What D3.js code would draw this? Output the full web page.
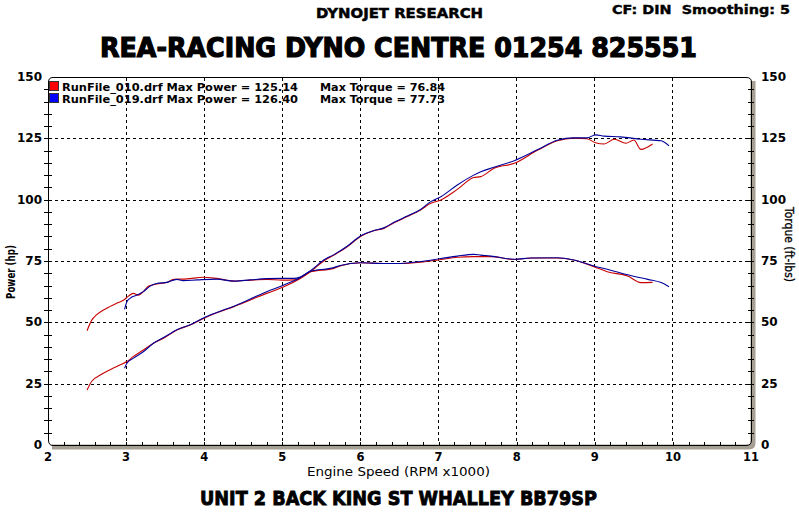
<!DOCTYPE html>
<html><head><meta charset="utf-8">
<script src="https://cdn.jsdelivr.net/npm/d3@7"></script>
<style>body{margin:0;background:#fff}svg{display:block}text{font-family:"DejaVu Sans",Verdana,sans-serif}</style>
</head><body>
<script>
// ---- data ----
const xTicks = [2,3,4,5,6,7,8,9,10,11];
const yTicks = [0,25,50,75,100,125,150];

const red010PowerRpm = [2.50,2.56,2.67,2.79,2.92,3.01,3.09,3.22,3.35,3.48,3.65,3.82,3.99,4.16,4.38,4.59,4.80,5.02,5.23,5.36,5.53,5.66,5.83,6.00,6.17,6.30,6.43,6.60,6.77,6.90,7.03,7.24,7.45,7.54,7.71,7.97,8.27,8.52,8.73,8.90,9.01,9.12,9.25,9.40,9.50,9.59,9.74];
const red010Power    = [22.4,26.0,28.5,30.6,32.6,34.0,36.0,38.7,41.5,43.5,46.9,48.9,51.6,53.9,56.4,59.1,61.8,64.5,67.9,70.6,75.0,77.4,80.8,85.0,87.3,88.3,90.6,93.1,95.8,98.5,99.9,104.2,109.0,109.4,112.8,114.8,120.2,124.0,125.1,124.8,123.2,122.7,124.6,123.0,124.3,120.5,122.7];

const blue019PowerRpm = [2.98,3.01,3.09,3.22,3.35,3.48,3.65,3.82,3.99,4.16,4.38,4.59,4.80,5.02,5.23,5.36,5.53,5.66,5.83,6.00,6.17,6.30,6.43,6.60,6.77,6.90,7.03,7.24,7.45,7.54,7.71,7.97,8.27,8.52,8.73,8.90,9.01,9.12,9.33,9.59,9.85,9.95];
const blue019Power    = [31.3,33.3,35.3,38.0,41.5,43.8,47.0,49.0,51.8,54.0,56.6,59.5,62.5,65.2,68.3,71.0,75.4,77.6,81.0,85.2,87.4,88.5,90.8,93.3,96.0,99.2,101.2,106.0,110.0,111.4,113.2,115.9,120.4,124.2,125.2,125.2,126.4,125.9,125.6,124.6,124.0,121.9];

const red010TorqueRpm = [2.50,2.56,2.62,2.71,2.79,2.88,2.97,3.03,3.09,3.16,3.22,3.29,3.39,3.52,3.61,3.78,3.99,4.16,4.38,4.59,4.80,5.00,5.15,5.23,5.36,5.66,5.74,6.00,6.30,6.51,6.77,7.03,7.24,7.45,7.67,7.97,8.18,8.52,8.73,8.99,9.16,9.42,9.59,9.74];
const red010Torque    = [46.6,50.9,53.0,55.0,56.4,57.8,59.1,60.7,61.8,61.1,62.5,64.8,65.6,66.2,67.5,67.7,68.4,67.9,66.8,67.2,67.5,67.2,67.3,68.3,70.6,72.0,73.0,74.3,74.0,74.0,74.5,75.6,76.5,76.8,76.8,75.6,76.2,76.2,75.4,72.7,70.6,68.9,66.2,66.3];

const blue019TorqueRpm = [2.98,3.01,3.05,3.14,3.22,3.31,3.39,3.52,3.65,3.73,3.91,4.16,4.38,4.59,4.80,5.00,5.15,5.23,5.36,5.66,5.74,6.00,6.30,6.51,6.77,7.03,7.24,7.45,7.54,7.67,7.97,8.18,8.52,8.73,8.99,9.16,9.42,9.68,9.85,9.95];
const blue019Torque    = [55.3,58.4,59.8,61.1,62.5,64.8,65.8,66.3,67.5,67.0,67.3,67.6,66.8,67.3,67.8,67.9,67.9,68.5,70.8,72.3,73.2,74.3,74.0,74.0,74.8,76.0,77.0,77.7,77.4,77.0,75.7,76.2,76.3,75.4,73.0,71.6,69.4,67.5,66.2,64.5];

const legendNames = ["RunFile_010.drf Max Power = 125.14","RunFile_019.drf Max Power = 126.40"];
const legendTorque = ["Max Torque = 76.84","Max Torque = 77.73"];
const legendColors = ["#ff0000","#0000ff"];
const lineColors = ["#c80000","#00009c"];

// ---- layout ----
const W = 799, H = 512;
const L = 48, R = 751, T = 77, B = 445;
const svg = d3.select("body").append("svg").attr("width", W).attr("height", H);

const x = d3.scaleLinear().domain([2, 11]).range([L, R]);
const y = d3.scaleLinear().domain([0, 150]).range([B, T]);

// shadow
const shadow = "#a59f94";
svg.append("path")
  .attr("d", `M${L+4},${B+2} L${R-2},${B+2} Q${R+2},${B+2} ${R+2},${B-2} L${R+2},${T+4}`)
  .attr("fill", "none").attr("stroke", shadow).attr("stroke-width", 5);

// grid
const g = svg.append("g");
g.selectAll(".vg").data(xTicks.filter(d => d > 2 && d < 11)).enter().append("line")
  .attr("x1", d => x(d)).attr("x2", d => x(d)).attr("y1", T + 1).attr("y2", B - 1)
  .attr("stroke", "#000").attr("stroke-dasharray", "3,3").attr("shape-rendering", "crispEdges");
g.selectAll(".hg").data(yTicks.filter(d => d > 0 && d < 150)).enter().append("line")
  .attr("y1", d => Math.round(y(d)) + 0.5).attr("y2", d => Math.round(y(d)) + 0.5).attr("x1", L + 1).attr("x2", R - 1)
  .attr("stroke", "#000").attr("stroke-dasharray", "3,3").attr("shape-rendering", "crispEdges");

// frame with rounded corners
const r = 5;
svg.append("path")
  .attr("d", `M${L+0.5},${T+r} Q${L+0.5},${T+0.5} ${L+r},${T+0.5} L${R-r},${T+0.5} Q${R+0.5},${T+0.5} ${R+0.5},${T+r} L${R+0.5},${B-r} Q${R+0.5},${B+0.5} ${R-r},${B+0.5} L${L+r},${B+0.5} Q${L+0.5},${B+0.5} ${L+0.5},${B-r} Z`)
  .attr("fill", "none").attr("stroke", "#000").attr("stroke-width", 1);

// minor ticks
const minorY = d3.range(5, 150, 5);
svg.append("g").selectAll("line").data(minorY).enter().append("line")
  .attr("x1", L - 4).attr("x2", L + 4).attr("y1", d => Math.round(y(d)) + 0.5).attr("y2", d => Math.round(y(d)) + 0.5)
  .attr("stroke", "#000").attr("shape-rendering", "crispEdges");
svg.append("g").selectAll("line").data(minorY).enter().append("line")
  .attr("x1", R - 3).attr("x2", R + 3).attr("y1", d => Math.round(y(d)) + 0.5).attr("y2", d => Math.round(y(d)) + 0.5)
  .attr("stroke", "#000").attr("shape-rendering", "crispEdges");
const minorX = d3.range(2.2, 10.9, 0.2);
svg.append("g").selectAll("line").data(minorX).enter().append("line")
  .attr("x1", d => Math.round(x(d)) + 0.5).attr("x2", d => Math.round(x(d)) + 0.5).attr("y1", B - 3).attr("y2", B + 1)
  .attr("stroke", "#000").attr("shape-rendering", "crispEdges");

// axes labels (using scales)
const lab = svg.append("g").attr("font-weight", "bold").attr("font-size", 12).attr("fill", "#000");
lab.selectAll(".yl").data(yTicks).enter().append("text")
  .attr("x", 42).attr("y", d => y(d) + 4).attr("text-anchor", "end").text(d => d);
lab.selectAll(".yr").data(yTicks).enter().append("text")
  .attr("x", 761).attr("y", d => y(d) + 4).attr("text-anchor", "start").text(d => d);
lab.selectAll(".xl").data(xTicks).enter().append("text")
  .attr("x", d => x(d)).attr("y", 461).attr("font-size", 11.5).attr("text-anchor", "middle").text(d => d);

// curves
const line = d3.line().x(d => x(d[0])).y(d => y(d[1])).curve(d3.curveMonotoneX);
const series = [
  [red010PowerRpm, red010Power, lineColors[0]],
  [red010TorqueRpm, red010Torque, lineColors[0]],
  [blue019PowerRpm, blue019Power, lineColors[1]],
  [blue019TorqueRpm, blue019Torque, lineColors[1]]
];
series.forEach(([xs, ys, c]) => {
  svg.append("path").datum(xs.map((v, i) => [v, ys[i]]))
    .attr("d", line).attr("fill", "none").attr("stroke", c).attr("stroke-width", 1.1);
});

// legend
legendNames.forEach((n, i) => {
  const yy = 81 + i * 12;
  svg.append("rect").attr("x", 49.5).attr("y", yy + 0.5).attr("width", 9).attr("height", 9)
    .attr("fill", legendColors[i]).attr("stroke", "#333");
  svg.append("text").attr("x", 62).attr("y", yy + 9.5).attr("font-size", 10.5).attr("font-weight", "bold")
    .attr("textLength", 236).attr("lengthAdjust", "spacingAndGlyphs").text(n);
  svg.append("text").attr("x", 320).attr("y", yy + 9.5).attr("font-size", 10.5).attr("font-weight", "bold")
    .attr("textLength", 125).attr("lengthAdjust", "spacingAndGlyphs").text(legendTorque[i]);
});

// titles
svg.append("text").attr("x", 316).attr("y", 18).attr("font-size", 14).attr("font-weight", "bold")
  .attr("stroke", "#000").attr("stroke-width", 0.5)
  .attr("textLength", 167).attr("lengthAdjust", "spacingAndGlyphs").text("DYNOJET RESEARCH");
svg.append("text").attr("x", 612).attr("y", 14).attr("font-size", 13).attr("font-weight", "bold")
  .attr("stroke", "#000").attr("stroke-width", 0.4)
  .attr("textLength", 178).attr("lengthAdjust", "spacingAndGlyphs").attr("xml:space", "preserve").text("CF: DIN  Smoothing: 5");
svg.append("text").attr("x", 100).attr("y", 57).attr("font-size", 26).attr("font-weight", "bold")
  .attr("stroke", "#000").attr("stroke-width", 1.2)
  .attr("textLength", 597).attr("lengthAdjust", "spacingAndGlyphs").text("REA-RACING DYNO CENTRE 01254 825551");
svg.append("text").attr("x", 200).attr("y", 505).attr("font-size", 20).attr("font-weight", "bold")
  .attr("stroke", "#000").attr("stroke-width", 0.9)
  .attr("textLength", 397).attr("lengthAdjust", "spacingAndGlyphs").text("UNIT 2 BACK KING ST WHALLEY BB79SP");
svg.append("text").attr("x", 307).attr("y", 476).attr("font-size", 12)
  .attr("textLength", 183).attr("lengthAdjust", "spacingAndGlyphs").text("Engine Speed (RPM x1000)");
svg.append("text").attr("transform", "translate(15,299) rotate(-90)").attr("font-size", 13).attr("font-weight", "bold")
  .attr("textLength", 54).attr("lengthAdjust", "spacingAndGlyphs").text("Power (hp)");
svg.append("text").attr("transform", "translate(785,207) rotate(90)").attr("font-size", 13)
  .attr("stroke", "#000").attr("stroke-width", 0.3)
  .attr("textLength", 75).attr("lengthAdjust", "spacingAndGlyphs").text("Torque (ft-lbs)");
</script>
</body></html>
